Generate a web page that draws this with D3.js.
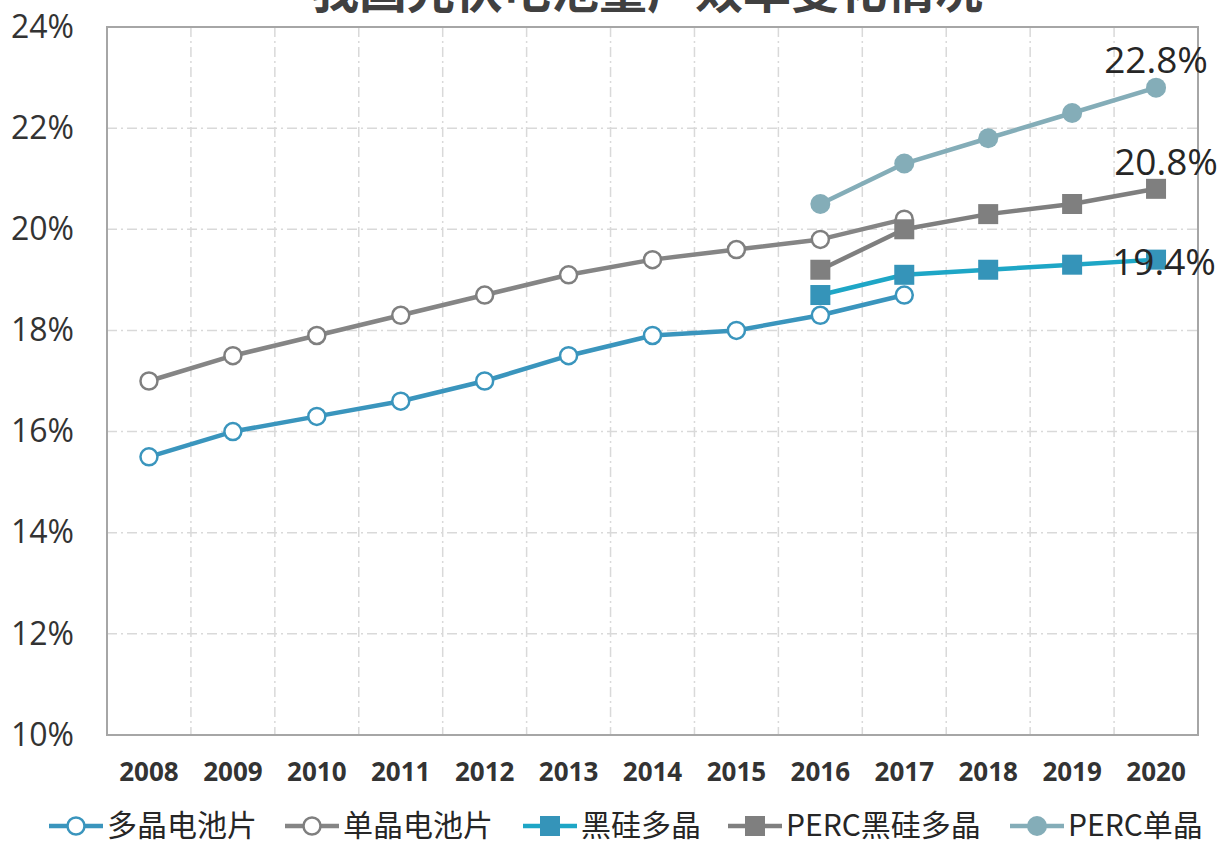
<!DOCTYPE html>
<html>
<head>
<meta charset="utf-8">
<script src="https://cdn.jsdelivr.net/npm/d3@7"></script>
<style>
  body { margin: 0; background: #fff; }
  svg { display: block; font-family: "Noto Sans", "Noto Sans CJK SC", sans-serif; }
</style>
</head>
<body>
<svg width="1224" height="845"></svg>
<script>
// data
const years = ["2008","2009","2010","2011","2012","2013","2014","2015","2016","2017","2018","2019","2020"];
const yTicks = [0.10, 0.12, 0.14, 0.16, 0.18, 0.20, 0.22, 0.24];
const polyCell   = [15.5, 16.0, 16.3, 16.6, 17.0, 17.5, 17.9, 18.0, 18.3, 18.7, null, null, null];
const monoCell   = [17.0, 17.5, 17.9, 18.3, 18.7, 19.1, 19.4, 19.6, 19.8, 20.2, null, null, null];
const blackPoly  = [null, null, null, null, null, null, null, null, 18.7, 19.1, 19.2, 19.3, 19.4];
const percBlack  = [null, null, null, null, null, null, null, null, 19.2, 20.0, 20.3, 20.5, 20.8];
const percMono   = [null, null, null, null, null, null, null, null, 20.5, 21.3, 21.8, 22.3, 22.8];

const series = [
  {name: "多晶电池片", values: polyCell, line: "#3a95bd", marker: "ocircle", fill: "#fff", stroke: "#3a95bd"},
  {name: "单晶电池片", values: monoCell, line: "#858585", marker: "ocircle", fill: "#fff", stroke: "#7f7f7f"},
  {name: "黑硅多晶", values: blackPoly, line: "#1ea6c6", marker: "square", fill: "#3594b9", stroke: "#3594b9"},
  {name: "PERC黑硅多晶", values: percBlack, line: "#7f7f7f", marker: "square", fill: "#7f7f7f", stroke: "#7f7f7f"},
  {name: "PERC单晶", values: percMono, line: "#84adb8", marker: "circle", fill: "#84adb8", stroke: "#84adb8"}
];

const svg = d3.select("svg");
const margin = {top: 27, left: 107, right: 26, bottom: 110};
const width = 1224 - margin.left - margin.right;
const height = 845 - margin.top - margin.bottom;
const g = svg.append("g").attr("transform", "translate(" + margin.left + "," + margin.top + ")");

const x = d3.scaleBand().domain(years).range([0, width]);
const y = d3.scaleLinear().domain([0.10, 0.24]).range([height, 0]);
const cx = d => x(d) + x.bandwidth() / 2;

// title, mostly cut off at the top edge (as in the reference)
svg.append("text")
  .attr("x", 647).attr("y", 8)
  .attr("text-anchor", "middle")
  .attr("font-size", 48).attr("font-weight", "bold")
  .attr("font-family", "Noto Sans CJK SC")
  .attr("fill", "#404040")
  .text("我国光伏电池量产效率变化情况");

// grid
g.append("g").selectAll("line")
  .data(yTicks.slice(1, -1))
  .enter().append("line")
  .attr("x1", 0).attr("x2", width)
  .attr("y1", d => y(d)).attr("y2", d => y(d))
  .attr("stroke", "#d9d9d9").attr("stroke-width", 1.5)
  .attr("stroke-dasharray", "10,4,2,4");
g.append("g").selectAll("line")
  .data(years.slice(1))
  .enter().append("line")
  .attr("x1", d => x(d)).attr("x2", d => x(d))
  .attr("y1", 0).attr("y2", height)
  .attr("stroke", "#d9d9d9").attr("stroke-width", 1.5)
  .attr("stroke-dasharray", "10,4,2,4");

// plot border
g.append("rect")
  .attr("width", width).attr("height", height)
  .attr("fill", "none").attr("stroke", "#a6a6a6").attr("stroke-width", 2);

// y axis labels
const yAxis = g.append("g")
  .call(d3.axisLeft(y).tickValues(yTicks).tickFormat(d3.format(".0%")).tickSize(0).tickPadding(33));
yAxis.select(".domain").remove();
yAxis.selectAll("text")
  .attr("font-size", 32).attr("fill", "#333")
  .attr("font-family", "Open Sans, Noto Sans, sans-serif");

// x axis labels
const xAxis = g.append("g")
  .attr("transform", "translate(0," + height + ")")
  .call(d3.axisBottom(x).tickSize(0).tickPadding(28));
xAxis.select(".domain").remove();
xAxis.selectAll("text")
  .attr("font-size", 26).attr("font-weight", "bold").attr("fill", "#333")
  .attr("font-family", "Open Sans, Noto Sans, sans-serif");

const line = d3.line()
  .defined(d => d.v != null)
  .x(d => cx(d.year))
  .y(d => y(d.v / 100));

function drawMarker(sel, s, px, py) {
  if (s.marker === "square") {
    sel.append("rect")
      .attr("x", px - 10).attr("y", py - 10).attr("width", 20).attr("height", 20)
      .attr("fill", s.fill);
  } else {
    sel.append("circle")
      .attr("cx", px).attr("cy", py).attr("r", s.marker === "circle" ? 10 : 8.5)
      .attr("fill", s.fill)
      .attr("stroke", s.stroke).attr("stroke-width", s.marker === "circle" ? 0 : 2.5);
  }
}

series.forEach(s => {
  const pts = years.map((yr, i) => ({year: yr, v: s.values[i]}));
  const sg = g.append("g");
  sg.append("path")
    .datum(pts)
    .attr("fill", "none")
    .attr("stroke", s.line)
    .attr("stroke-width", 4.5)
    .attr("stroke-linejoin", "round")
    .attr("d", line);
  pts.filter(d => d.v != null).forEach(d => drawMarker(sg, s, cx(d.year), y(d.v / 100)));
});

// end value labels
const endLabels = [
  {v: percMono[12], dx: 0, dy: -15},
  {v: percBlack[12], dx: 10, dy: -14},
  {v: blackPoly[12], dx: 8, dy: 15}
];
endLabels.forEach(l => {
  g.append("text")
    .attr("x", cx("2020") + l.dx)
    .attr("y", y(l.v / 100) + l.dy)
    .attr("text-anchor", "middle")
    .attr("font-size", 37).attr("fill", "#262626")
    .attr("font-family", "Open Sans, Noto Sans, sans-serif")
    .text(l.v.toFixed(1) + "%");
});

// legend
const legendX = [49, 285, 523, 728, 1010];
const legend = svg.append("g");
series.forEach((s, i) => {
  const lx = legendX[i], ly = 826;
  legend.append("line")
    .attr("x1", lx).attr("x2", lx + 54)
    .attr("y1", ly).attr("y2", ly)
    .attr("stroke", s.line).attr("stroke-width", 4.5);
  drawMarker(legend, s, lx + 27, ly);
  legend.append("text")
    .attr("x", lx + 58).attr("y", ly + 10)
    .attr("font-size", 30).attr("fill", "#262626")
    .attr("font-family", "Noto Sans CJK SC")
    .text(s.name);
});
</script>
</body>
</html>
